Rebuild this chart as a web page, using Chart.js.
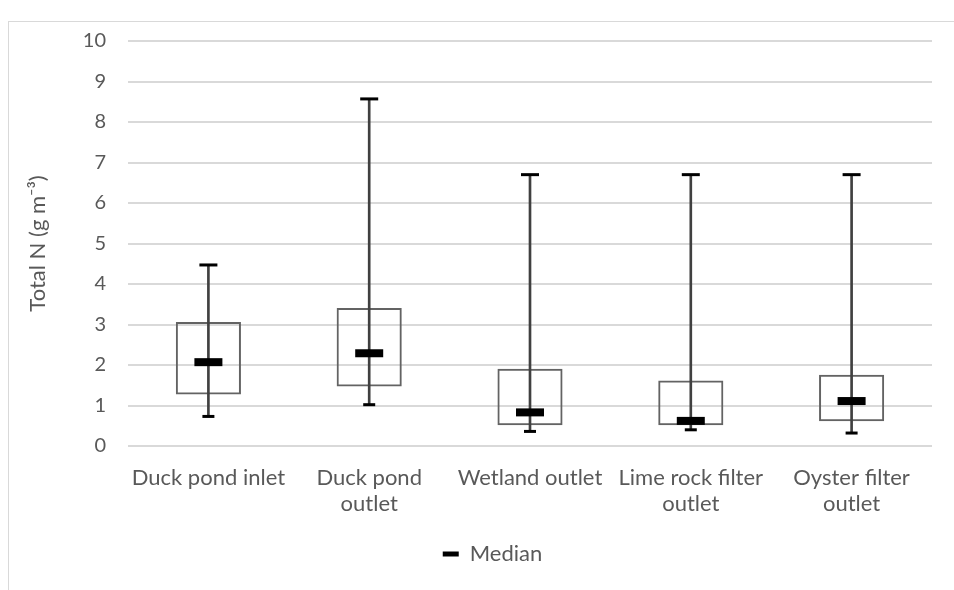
<!DOCTYPE html>
<html>
<head>
<meta charset="utf-8">
<script src="https://cdn.jsdelivr.net/npm/chart.js@4.4.0/dist/chart.umd.min.js"></script>
<style>
  html, body { margin: 0; padding: 0; background: #fff; }
  #wrap { width: 954px; height: 590px; }
</style>
</head>
<body>
<div id="wrap"><canvas id="boxChart" width="954" height="590"></canvas></div>
<script>
const categories = [
    ['Duck pond inlet'],
    ['Duck pond', 'outlet'],
    ['Wetland outlet'],
    ['Lime rock filter', 'outlet'],
    ['Oyster filter', 'outlet']
];
const whiskerMin = [0.73, 1.02, 0.36, 0.40, 0.32];
const q1 = [1.27, 1.47, 0.51, 0.51, 0.61];
const median = [2.07, 2.29, 0.83, 0.62, 1.11];
const q3 = [3.06, 3.41, 1.91, 1.62, 1.76];
const whiskerMax = [4.47, 8.57, 6.70, 6.70, 6.70];
const yTicks = [0, 1, 2, 3, 4, 5, 6, 7, 8, 9, 10];

Chart.defaults.font.family = 'Lato';
Chart.defaults.color = '#595959';

// light frame like the excel chart area, legend nudged to sit under the plot
const frame = {
    id: 'frame',
    afterLayout(chart) {
        chart.legend.left += 25;
        chart.legend.right += 25;
    },
    beforeDraw(chart) {
        const ctx = chart.ctx;
        ctx.save();
        ctx.strokeStyle = '#d9d9d9';
        ctx.lineWidth = 1;
        ctx.strokeRect(8.5, 21.5, 1000, 1000);
        ctx.restore();
    }
};

new Chart(document.getElementById('boxChart'), {
    data: {
        labels: categories,
        datasets: [
            {
                type: 'line',
                label: 'Median',
                data: median,
                showLine: false,
                pointStyle: 'line',
                pointRadius: 14,
                pointHoverRadius: 14,
                borderColor: '#000',
                pointBorderWidth: 8,
                order: 0
            },
            {
                type: 'line',
                label: 'max',
                data: whiskerMax,
                showLine: false,
                pointStyle: 'line',
                pointRadius: 9,
                pointHoverRadius: 9,
                borderColor: '#000',
                pointBorderWidth: 3,
                order: 1
            },
            {
                type: 'line',
                label: 'min',
                data: whiskerMin,
                showLine: false,
                pointStyle: 'line',
                pointRadius: 6,
                pointHoverRadius: 6,
                borderColor: '#000',
                pointBorderWidth: 3,
                order: 1
            },
            {
                type: 'bar',
                label: 'whisker',
                data: whiskerMin.map((v, i) => [v, whiskerMax[i]]),
                backgroundColor: '#404040',
                barThickness: 2,
                grouped: false,
                order: 2
            },
            {
                type: 'bar',
                label: 'box',
                data: q1.map((v, i) => [v, q3[i]]),
                backgroundColor: 'rgba(0,0,0,0)',
                borderColor: '#636363',
                borderWidth: 2,
                borderSkipped: false,
                barPercentage: 0.405,
                categoryPercentage: 1,
                grouped: false,
                order: 3
            }
        ]
    },
    options: {
        responsive: false,
        animation: false,
        layout: { padding: { top: 41, right: 19, bottom: 15, left: 0 } },
        plugins: {
            tooltip: { enabled: false },
            legend: {
                position: 'bottom',
                labels: {
                    usePointStyle: true,
                    pointStyleWidth: 16,
                    padding: 10,
                    color: '#595959',
                    font: { size: 22 },
                    generateLabels: () => [{
                        text: 'Median',
                        pointStyle: 'line',
                        strokeStyle: '#000',
                        fillStyle: '#000',
                        lineWidth: 5,
                        fontColor: '#595959',
                        datasetIndex: 0
                    }]
                }
            }
        },
        scales: {
            x: {
                grid: { display: false, drawTicks: false },
                border: { display: false },
                ticks: {
                    padding: 19,
                    maxRotation: 0,
                    font: { size: 22, lineHeight: 1.18 },
                    color: '#595959'
                },
                afterFit: (scale) => { scale.height = 87; }
            },
            y: {
                min: 0,
                max: 10,
                afterBuildTicks: (scale) => { scale.ticks = yTicks.map(v => ({ value: v })); },
                grid: { color: '#d9d9d9', lineWidth: 2, drawTicks: false },
                border: { display: false },
                ticks: {
                    padding: 22,
                    font: { size: 20 },
                    color: '#595959'
                },
                title: {
                    display: true,
                    text: 'Total N (g m\u207B\u00B3)',
                    color: '#595959',
                    font: { size: 22 },
                    padding: { top: 25, bottom: 0 }
                },
                afterFit: (scale) => { scale.width = 128; }
            }
        }
    },
    plugins: [frame]
});
</script>
</body>
</html>
